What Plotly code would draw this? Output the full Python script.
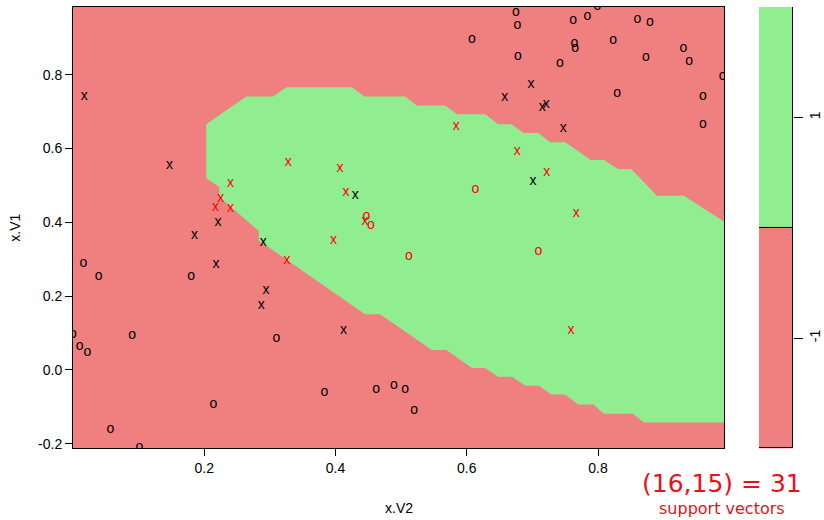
import plotly.graph_objects as go

# ---- observations (x.V2, x.V1) split by class and support-vector status ----
# class -1, not support vectors ("o", black)
neg_o_v2 = [0.675, 0.677, 0.608, 0.678, 0.799, 0.784, 0.762, 0.860, 0.879, 0.764,
            0.765, 0.823, 0.930, 0.939, 0.873, 0.742, 0.990, 0.829, 0.960, 0.960,
            0.016, 0.039, 0.180, 0.000, 0.090, 0.010, 0.022, 0.310, 0.214, 0.057,
            0.101, 0.383, 0.462, 0.489, 0.506, 0.520]
neg_o_v1 = [0.970, 0.933, 0.895, 0.849, 0.984, 0.957, 0.946, 0.949, 0.943, 0.884,
            0.871, 0.892, 0.871, 0.836, 0.846, 0.830, 0.795, 0.749, 0.741, 0.666,
            0.288, 0.253, 0.253, 0.097, 0.092, 0.062, 0.046, 0.086, -0.094, -0.162,
            -0.210, -0.062, -0.054, -0.043, -0.054, -0.111]

# class -1, support vectors ("x", black) -- 16 of them
neg_x_v2 = [0.698, 0.658, 0.715, 0.721, 0.701, 0.747, 0.430, 0.017, 0.147, 0.221,
            0.185, 0.218, 0.290, 0.294, 0.287, 0.412]
neg_x_v1 = [0.774, 0.739, 0.712, 0.720, 0.512, 0.655, 0.474, 0.741, 0.555, 0.399,
            0.364, 0.286, 0.345, 0.216, 0.175, 0.108]

# class 1, support vectors ("x", red) -- 15 of them
pos_x_v2 = [0.584, 0.677, 0.722, 0.767, 0.759, 0.328, 0.407, 0.416, 0.445, 0.397,
            0.326, 0.240, 0.225, 0.217, 0.240]
pos_x_v1 = [0.660, 0.593, 0.536, 0.423, 0.108, 0.563, 0.547, 0.482, 0.402, 0.350,
            0.296, 0.504, 0.464, 0.439, 0.437]

# class 1, not support vectors ("o", red)
pos_o_v2 = [0.613, 0.447, 0.454, 0.512, 0.709]
pos_o_v1 = [0.488, 0.415, 0.391, 0.307, 0.321]

# ---- predicted class-1 region (outline of the decision area) ----
region_v2 = [0.203, 0.264, 0.305, 0.325, 0.425, 0.444, 0.506, 0.524, 0.567, 0.585,
             0.628, 0.648, 0.668, 0.687, 0.709, 0.727, 0.750, 0.789, 0.809, 0.831,
             0.851, 0.890, 0.931, 0.992, 0.992, 0.870, 0.853, 0.809, 0.793, 0.770,
             0.750, 0.729, 0.710, 0.689, 0.669, 0.648, 0.628, 0.608, 0.569, 0.547,
             0.468, 0.445, 0.301, 0.283, 0.283, 0.223, 0.223, 0.203, 0.203]
region_v1 = [0.666, 0.741, 0.741, 0.766, 0.766, 0.741, 0.741, 0.717, 0.717, 0.693,
             0.693, 0.666, 0.666, 0.642, 0.642, 0.617, 0.617, 0.569, 0.569, 0.544,
             0.544, 0.472, 0.472, 0.402, -0.143, -0.143, -0.119, -0.119, -0.094, -0.094,
             -0.067, -0.067, -0.043, -0.043, -0.019, -0.019, 0.005, 0.005, 0.054, 0.054,
             0.151, 0.151, 0.329, 0.350, 0.377, 0.469, 0.496, 0.520, 0.666]

# ---- key ----
class_levels = ["-1", "1"]
class_colors = ["#F08080", "#90EE90"]

x_ticks = [0.2, 0.4, 0.6, 0.8]
y_ticks = [-0.2, 0.0, 0.2, 0.4, 0.6, 0.8]
y_tick_text = ["-0.2", "0.0", "0.2", "0.4", "0.6", "0.8"]

FONT = "Liberation Sans, Arial, Helvetica, sans-serif"
W, H = 824, 520
L, R, T, B = 73, 724, 7, 451          # main panel in pixels
KL, KR = 759, 793                     # key strip in pixels

fig = go.Figure()

fig.add_trace(go.Scatter(
    x=region_v2, y=region_v1, mode="lines", fill="toself",
    fillcolor=class_colors[1], line=dict(width=0), hoverinfo="skip",
    showlegend=False))


def glyphs(xs, ys, ch, color):
    return go.Scatter(
        x=xs, y=ys, mode="text", text=[ch] * len(xs),
        textposition="middle center",
        textfont=dict(family=FONT, size=14, color=color),
        showlegend=False, cliponaxis=True)


fig.add_trace(glyphs(neg_o_v2, neg_o_v1, "o", "black"))
fig.add_trace(glyphs(neg_x_v2, neg_x_v1, "x", "black"))
fig.add_trace(glyphs(pos_o_v2, pos_o_v1, "o", "red"))
fig.add_trace(glyphs(pos_x_v2, pos_x_v1, "x", "red"))

# colour key
fig.add_trace(go.Bar(
    x=[0, 0], y=[1, 1], base=[0, 1], width=1,
    marker=dict(color=class_colors, line=dict(color="black", width=1)),
    xaxis="x2", yaxis="y2", showlegend=False, hoverinfo="skip"))

ydom = [1 - B / H, 1 - T / H]
axis_font = dict(family=FONT, size=14, color="black")

fig.update_layout(
    width=W, height=H,
    margin=dict(l=0, r=0, t=0, b=0),
    paper_bgcolor="white",
    plot_bgcolor=class_colors[0],
    bargap=0,
    xaxis=dict(domain=[L / W, R / W], range=[0.0, 0.992],
               tickvals=x_ticks, ticktext=[f"{v:.1f}" for v in x_ticks],
               ticks="outside", ticklen=7, tickcolor="black",
               showline=True, mirror=True, linecolor="black", linewidth=1,
               showgrid=False, zeroline=False, tickfont=axis_font,
               anchor="y"),
    yaxis=dict(domain=ydom, range=[-0.213, 0.984],
               tickvals=y_ticks, ticktext=y_tick_text,
               ticks="outside", ticklen=7, tickcolor="black",
               showline=True, mirror=True, linecolor="black", linewidth=1,
               showgrid=False, zeroline=False, tickfont=axis_font,
               anchor="x"),
    xaxis2=dict(domain=[KL / W, KR / W], range=[-0.5, 0.5], visible=False,
                anchor="y2"),
    yaxis2=dict(domain=ydom, range=[0, 2], side="right",
                tickvals=[0.5, 1.5], ticktext=class_levels, tickangle=-90,
                ticks="outside", ticklen=9, tickcolor="black",
                showline=False, showgrid=False, zeroline=False,
                tickfont=axis_font, anchor="x2"),
    annotations=[
        dict(text="x.V2", x=(L + R) / 2 / W, y=1 - 511 / H, xref="paper",
             yref="paper", showarrow=False, font=axis_font,
             xanchor="center", yanchor="middle"),
        dict(text="x.V1", x=15 / W, y=1 - (T + B) / 2 / H, xref="paper",
             yref="paper", showarrow=False, font=axis_font, textangle=-90,
             xanchor="center", yanchor="middle"),
        dict(text="(16,15) = 31", x=722 / W, y=1 - 486 / H, xref="paper",
             yref="paper", showarrow=False,
             font=dict(family="DejaVu Sans, sans-serif", size=25, color="#e8101a"),
             xanchor="center", yanchor="middle"),
        dict(text="support vectors", x=722 / W, y=1 - 511 / H, xref="paper",
             yref="paper", showarrow=False,
             font=dict(family="DejaVu Sans, sans-serif", size=16, color="#e8101a"),
             xanchor="center", yanchor="middle"),
    ],
)

fig.write_html("out.html")
